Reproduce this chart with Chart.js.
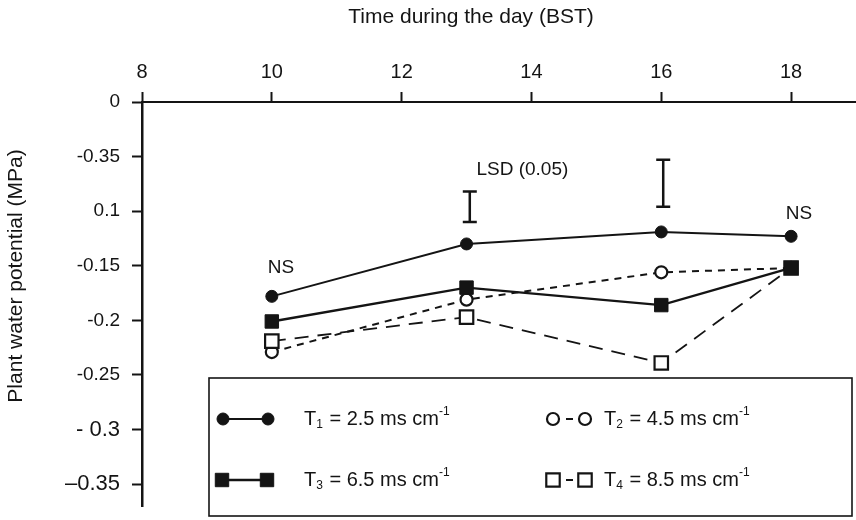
<!DOCTYPE html>
<html>
<head>
<meta charset="utf-8">
<script src="https://cdn.jsdelivr.net/npm/chart.js@4.4.0/dist/chart.umd.min.js"></script>
<style>
  html, body { margin: 0; padding: 0; background: #fff; }
  #wrap { width: 856px; height: 520px; }
</style>
</head>
<body>
<div id="wrap"><canvas id="waterChart" width="856" height="520"></canvas></div>
<script>
// Hours of measurement and the four treatments (MPa)
const hours = [10, 13, 16, 18];
const t1Values = [-0.178, -0.130, -0.119, -0.123];
const t2Values = [-0.229, -0.181, -0.156, -0.152];
const t3Values = [-0.201, -0.170, -0.186, -0.152];
const t4Values = [-0.219, -0.197, -0.239, -0.152];

const xTicks = [8, 10, 12, 14, 16, 18];
const yTicks = [0, -0.05, -0.1, -0.15, -0.2, -0.25, -0.3, -0.35];
// labels exactly as printed on the original figure
const yTickLabels = ['0', '-0.35', '0.1', '-0.15', '-0.2', '-0.25', '- 0.3', '\u20130.35'];

// LSD (0.05) bars
const lsdHours = [13.05, 16.03];
const lsdTop = [-0.082, -0.053];
const lsdBottom = [-0.110, -0.096];

// text notes placed in data units
const noteTexts = ['NS', 'NS', 'LSD (0.05)'];
const noteHours = [10.14, 18.12, 13.86];
const noteValues = [-0.1516, -0.102, -0.0618];

const xTitle = 'Time during the day (BST)';
const yTitle = 'Plant water potential (MPa)';
const legendSubs = ['1', '2', '3', '4'];
const legendRates = ['2.5', '4.5', '6.5', '8.5'];

const FONT = '"Liberation Sans", Arial, Helvetica, sans-serif';
const INK = '#141414';

function toPoints(values) {
  return hours.map((h, i) => ({ x: h, y: values[i] }));
}

const datasets = [
  {
    label: 'T1 = 2.5 ms cm-1', data: toPoints(t1Values), order: 1,
    borderColor: INK, borderWidth: 2, borderDash: [],
    pointStyle: 'circle', pointRadius: 6, pointBackgroundColor: INK, pointBorderColor: INK, pointBorderWidth: 1
  },
  {
    label: 'T2 = 4.5 ms cm-1', data: toPoints(t2Values), order: 4,
    borderColor: INK, borderWidth: 2, borderDash: [7, 6],
    pointStyle: 'circle', pointRadius: 6, pointBackgroundColor: '#fff', pointBorderColor: INK, pointBorderWidth: 2.2
  },
  {
    label: 'T3 = 6.5 ms cm-1', data: toPoints(t3Values), order: 2,
    borderColor: INK, borderWidth: 2.4, borderDash: [],
    pointStyle: 'rect', pointRadius: 9.5, pointBackgroundColor: INK, pointBorderColor: INK, pointBorderWidth: 1
  },
  {
    label: 'T4 = 8.5 ms cm-1', data: toPoints(t4Values), order: 3,
    borderColor: INK, borderWidth: 1.8, borderDash: [14, 9],
    pointStyle: 'rect', pointRadius: 9.5, pointBackgroundColor: '#fff', pointBorderColor: INK, pointBorderWidth: 2.2
  }
];
datasets.forEach(d => { d.tension = 0; d.fill = false; d.pointHoverRadius = d.pointRadius; });

const notesPlugin = {
  id: 'notes',
  afterDatasetsDraw(chart) {
    const { ctx, scales: { x, y } } = chart;
    ctx.save();
    ctx.strokeStyle = INK;
    ctx.lineWidth = 2.5;
    lsdHours.forEach((h, i) => {
      const px = x.getPixelForValue(h);
      const top = y.getPixelForValue(lsdTop[i]);
      const bot = y.getPixelForValue(lsdBottom[i]);
      ctx.beginPath();
      ctx.moveTo(px, top); ctx.lineTo(px, bot);
      ctx.moveTo(px - 7, top); ctx.lineTo(px + 7, top);
      ctx.moveTo(px - 7, bot); ctx.lineTo(px + 7, bot);
      ctx.stroke();
    });
    ctx.fillStyle = INK;
    ctx.font = '19px ' + FONT;
    ctx.textAlign = 'center';
    ctx.textBaseline = 'middle';
    noteTexts.forEach((t, i) => {
      ctx.fillText(t, x.getPixelForValue(noteHours[i]), y.getPixelForValue(noteValues[i]));
    });

    // axis titles (the original sits them off-centre)
    ctx.font = '21px ' + FONT;
    ctx.textBaseline = 'alphabetic';
    ctx.fillText(xTitle, 471, 23);
    ctx.translate(22, 276);
    ctx.rotate(-Math.PI / 2);
    ctx.fillText(yTitle, 0, 0);
    ctx.restore();
  }
};

function drawMarker(ctx, ds, cx, cy) {
  ctx.save();
  ctx.setLineDash([]);
  ctx.fillStyle = ds.pointBackgroundColor;
  ctx.strokeStyle = ds.pointBorderColor;
  ctx.lineWidth = ds.pointBorderWidth;
  ctx.beginPath();
  if (ds.pointStyle === 'rect') {
    const s = ds.pointRadius / Math.SQRT2;
    ctx.rect(cx - s, cy - s, 2 * s, 2 * s);
  } else {
    ctx.arc(cx, cy, ds.pointRadius, 0, Math.PI * 2);
  }
  ctx.fill();
  ctx.stroke();
  ctx.restore();
}

function drawLegendLabel(ctx, x, y, sub, rate) {
  ctx.font = '20px ' + FONT;
  ctx.fillText('T', x, y);
  x += ctx.measureText('T').width;
  ctx.font = '12px ' + FONT;
  ctx.fillText(sub, x, y + 6);
  x += ctx.measureText(sub).width + 1;
  ctx.font = '20px ' + FONT;
  const body = ' = ' + rate + ' ms cm';
  ctx.fillText(body, x, y);
  x += ctx.measureText(body).width;
  ctx.font = '12px ' + FONT;
  ctx.fillText('-1', x, y - 7);
}

const legendPlugin = {
  id: 'boxLegend',
  afterDraw(chart) {
    const ctx = chart.ctx;
    const box = { left: 209, top: 378, right: 852, bottom: 516 };
    ctx.save();
    ctx.fillStyle = '#fff';
    ctx.fillRect(box.left, box.top, box.right - box.left, box.bottom - box.top);
    ctx.strokeStyle = INK;
    ctx.lineWidth = 1.6;
    ctx.strokeRect(box.left, box.top, box.right - box.left, box.bottom - box.top);

    // [x of first marker, x of second marker, text x, row y]
    const slots = [
      [223, 268, 304, 419],
      [553, 585, 604, 419],
      [222, 267, 304, 480],
      [553, 585, 604, 480]
    ];
    chart.data.datasets.forEach((ds, i) => {
      const [x1, x2, tx, ry] = slots[i];
      ctx.save();
      ctx.strokeStyle = ds.borderColor;
      ctx.lineWidth = ds.borderWidth;
      ctx.setLineDash(ds.borderDash.length ? [7, 6] : []);
      ctx.beginPath();
      ctx.moveTo(x1, ry); ctx.lineTo(x2, ry);
      ctx.stroke();
      ctx.restore();
      drawMarker(ctx, ds, x1, ry);
      drawMarker(ctx, ds, x2, ry);
      ctx.fillStyle = INK;
      ctx.textAlign = 'left';
      ctx.textBaseline = 'middle';
      drawLegendLabel(ctx, tx, ry, legendSubs[i], legendRates[i]);
    });
    ctx.restore();
  }
};

new Chart(document.getElementById('waterChart'), {
  type: 'line',
  data: { datasets: datasets },
  plugins: [notesPlugin, legendPlugin],
  options: {
    responsive: false,
    animation: false,
    events: [],
    layout: { autoPadding: false, padding: { left: 0, right: 0, top: 0, bottom: 14 } },
    plugins: { legend: { display: false }, tooltip: { enabled: false } },
    scales: {
      x: {
        type: 'linear',
        position: 'top',
        min: 8,
        max: 19,
        afterBuildTicks: s => { s.ticks = xTicks.map(v => ({ value: v })); },
        afterFit: s => { s.height = 102; s.paddingLeft = 0; s.paddingRight = 0; },
        grid: { drawOnChartArea: false, drawTicks: true, tickLength: 10, tickWidth: 2, tickColor: INK },
        border: { display: true, color: INK, width: 2 },
        ticks: { color: INK, font: { family: FONT, size: 20 }, padding: 8, maxRotation: 0 }
      },
      y: {
        type: 'linear',
        min: -0.37,
        max: 0,
        afterBuildTicks: s => { s.ticks = yTicks.map(v => ({ value: v })); },
        afterFit: s => { s.width = 142; s.paddingTop = 0; s.paddingBottom = 0; },
        grid: { drawOnChartArea: false, drawTicks: true, tickLength: 10, tickWidth: 2, tickColor: INK },
        border: { display: true, color: INK, width: 2.5 },
        ticks: {
          color: INK,
          padding: 12,
          callback: (value, index) => yTickLabels[index],
          font: c => ({ family: FONT, size: c.tick && c.tick.value <= -0.3 ? 22 : 19 })
        }
      }
    }
  }
});
</script>
</body>
</html>
